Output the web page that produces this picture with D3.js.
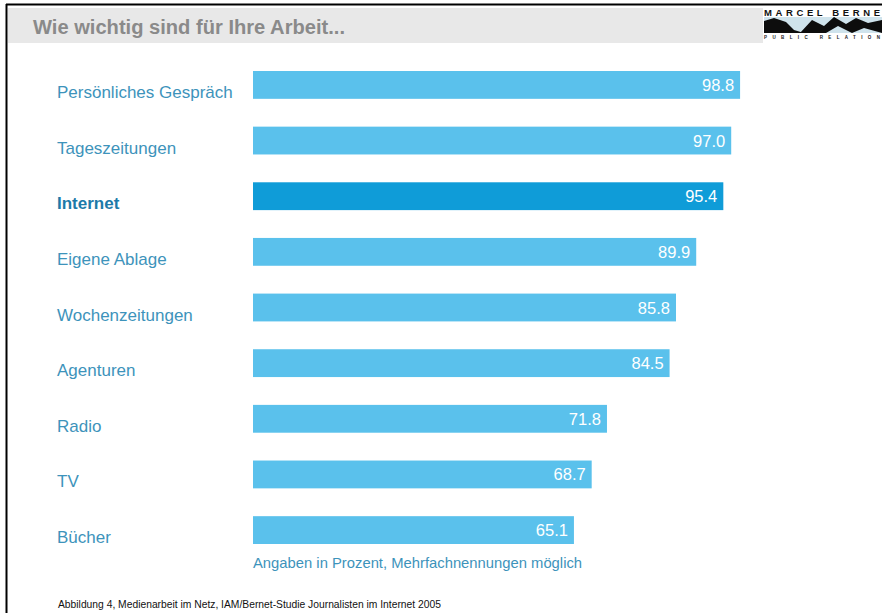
<!DOCTYPE html>
<html lang="de">
<head>
<meta charset="utf-8">
<style>
  body { margin: 0; background: #fff; }
  svg text { font-family: "Liberation Sans", Arial, Helvetica, sans-serif; }
</style>
</head>
<body>
<div id="chart"></div>
<script src="https://cdnjs.cloudflare.com/ajax/libs/d3/7.8.5/d3.min.js"></script>
<script>
// data
var categories = ['Persönliches Gespräch', 'Tageszeitungen', 'Internet', 'Eigene Ablage',
                  'Wochenzeitungen', 'Agenturen', 'Radio', 'TV', 'Bücher'];
var values = [98.8, 97.0, 95.4, 89.9, 85.8, 84.5, 71.8, 68.7, 65.1];
var highlight = 'Internet';

var WIDTH = 882, HEIGHT = 613;

var svg = d3.select('#chart').append('svg')
  .attr('width', WIDTH).attr('height', HEIGHT);

// frame lines (top and left only)
svg.append('line').attr('x1', 6).attr('x2', WIDTH).attr('y1', 4.5).attr('y2', 4.5)
  .attr('stroke', '#000').attr('stroke-width', 2);
svg.append('line').attr('x1', 6.5).attr('x2', 6.5).attr('y1', 4).attr('y2', HEIGHT)
  .attr('stroke', '#000').attr('stroke-width', 2);

// title band
svg.append('rect').attr('x', 8).attr('y', 8).attr('width', 755).attr('height', 35)
  .attr('fill', '#e8e8e8');
svg.append('text').attr('x', 33).attr('y', 34)
  .attr('font-size', 19.5).attr('font-weight', 'bold').attr('fill', '#8a8a8a')
  .attr('textLength', 312).attr('lengthAdjust', 'spacingAndGlyphs')
  .text('Wie wichtig sind für Ihre Arbeit...');

// logo (rough)
var logo = svg.append('g').attr('transform', 'translate(764,6)');
logo.append('text').attr('x', 0).attr('y', 9.5).attr('font-size', 9.5).attr('font-weight', 'bold')
  .attr('textLength', 116).attr('lengthAdjust', 'spacing')
  .attr('fill', '#111').text('MARCEL BERNE');
logo.append('rect').attr('x', 0).attr('y', 11).attr('width', 118).attr('height', 16).attr('fill', '#cfe3ec');
logo.append('path').attr('fill', '#0d0d0d')
  .attr('d', 'M0,27 L0,15 L10,12 L22,16 L30,24 L40,27 Z M36,27 L48,14 L60,20 L70,11 L82,18 L92,12 L104,17 L118,14 L118,27 L100,22 L88,27 L74,20 L62,27 Z');
logo.append('text').attr('x', 0).attr('y', 33).attr('font-size', 4.5).attr('font-weight', 'bold')
  .attr('textLength', 116).attr('lengthAdjust', 'spacing')
  .attr('fill', '#222').text('PUBLIC RELATION');

// scales
var x = d3.scaleLinear().domain([0, 100]).range([253, 746]);
var y = d3.scaleBand().domain(categories).range([71, 544]).paddingInner(0.5).paddingOuter(0);

var rows = svg.append('g').selectAll('g')
  .data(categories.map(function (c, i) { return { name: c, value: values[i] }; }))
  .join('g');

rows.append('rect')
  .attr('x', x(0))
  .attr('y', function (d) { return y(d.name); })
  .attr('width', function (d) { return x(d.value) - x(0); })
  .attr('height', y.bandwidth())
  .attr('fill', function (d) { return d.name === highlight ? '#0f9cd8' : '#5ac1ec'; });

rows.append('text')
  .attr('x', function (d) { return x(d.value) - 6; })
  .attr('y', function (d) { return y(d.name) + y.bandwidth() / 2 + 6; })
  .attr('text-anchor', 'end')
  .attr('font-size', 16.5)
  .attr('fill', '#fff')
  .text(function (d) { return d3.format('.1f')(d.value); });

rows.append('text')
  .attr('x', 57)
  .attr('y', function (d) { return y(d.name) + y.bandwidth() / 2 + 13; })
  .attr('font-size', 17)
  .attr('font-weight', function (d) { return d.name === highlight ? 'bold' : 'normal'; })
  .attr('fill', function (d) { return d.name === highlight ? '#1c7aa9' : '#3d93bb'; })
  .text(function (d) { return d.name; });

// notes
svg.append('text').attr('x', 253).attr('y', 568).attr('font-size', 14.8).attr('fill', '#3d93bb')
  .text('Angaben in Prozent, Mehrfachnennungen möglich');
svg.append('text').attr('x', 58).attr('y', 608).attr('font-size', 10.3).attr('fill', '#111')
  .text('Abbildung 4, Medienarbeit im Netz, IAM/Bernet-Studie Journalisten im Internet 2005');
</script>
</body>
</html>
